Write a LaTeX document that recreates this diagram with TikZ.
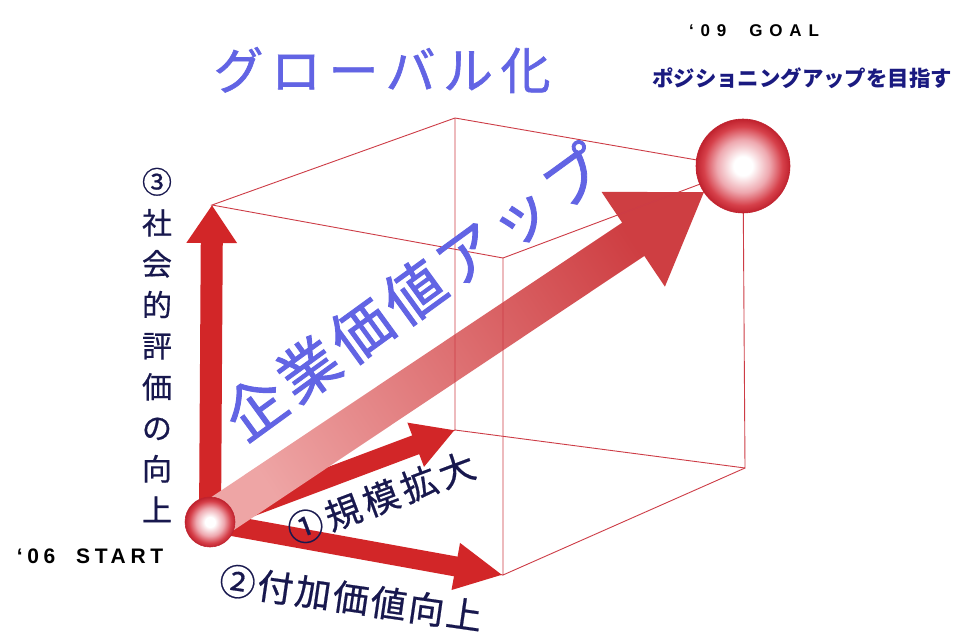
\documentclass[tikz,border=0pt]{standalone}
\usepackage{fontspec}
\setmainfont{Liberation Sans}
\newfontfamily\jp{Noto Sans CJK JP}
\usetikzlibrary{arrows.meta,calc}
\definecolor{cubered}{RGB}{205,60,70}
\definecolor{arrred}{RGB}{210,38,40}
\definecolor{kblue}{RGB}{98,100,228}
\definecolor{navy}{RGB}{26,26,128}
\definecolor{dnavy}{RGB}{24,24,78}
\definecolor{sphmid}{RGB}{238,168,175}
\definecolor{sphred}{RGB}{214,64,74}
\definecolor{sphdark}{RGB}{192,34,46}
\definecolor{bigA}{RGB}{238,165,165}
\definecolor{bigB}{RGB}{206,62,66}
\pgfdeclareradialshading{sphshade}{\pgfpoint{0bp}{0bp}}{color(0bp)=(white); color(5bp)=(white); color(14bp)=(sphmid); color(21bp)=(sphred); color(25bp)=(sphdark); color(50bp)=(sphdark)}
\pgfdeclarelayer{bgl}
\pgfdeclarelayer{redl}
\pgfdeclarelayer{bigl}
\pgfdeclarelayer{cubel}
\pgfsetlayers{bgl,redl,bigl,cubel,main}
\begin{document}
\begin{tikzpicture}[x=1pt,y=-1pt,
  cubeedge/.style={draw=cubered,line width=0.9pt},
  redarrow/.style={draw=arrred},
  sphere/.style={circle,inner sep=0pt,shading=sphshade,draw=sphdark,line width=0.6pt},
  lbl/.style={text=dnavy,inner sep=0pt},
  bluetxt/.style={text=kblue,inner sep=0pt},
]
\begin{pgfonlayer}{bgl}
  \fill[white] (0,0) rectangle (960,634);
\end{pgfonlayer}
\useasboundingbox (0,0) rectangle (960,634);

% cube corners
\coordinate (A) at (455,430);
\coordinate (B) at (503,575);
\coordinate (C) at (745,468);
\coordinate (D) at (212,205);
\coordinate (E) at (455,118);
\coordinate (F) at (503,258);
\coordinate (G) at (743,168);

% spheres
\node[sphere,minimum size=50pt] (start) at (210,522) {};
\node[sphere,minimum size=94pt] (goal) at (743,166) {};

% red arrows (and the cube edges under them)
\begin{pgfonlayer}{redl}
  \draw[cubeedge] (start.center) -- (A) (start.center) -- (B) (start.center) -- (D);
  \draw[redarrow,line width=22pt,-{Triangle[length=38pt,width=48pt]}] (start.center) -- (D);
  \draw[redarrow,line width=20pt,-{Triangle[length=42pt,width=44pt]}] (start.center) -- (A);
  \draw[redarrow,line width=20pt,-{Triangle[length=48pt,width=44pt]}] (start.center) -- (B);
\end{pgfonlayer}

% big shaded arrow
\begin{pgfonlayer}{bigl}
  \coordinate (T) at ($(goal.center)!47pt!(start.center)$);
  \coordinate (H) at ($(T)!85pt!(start.center)$);
  \shade[left color=bigA,right color=bigB,shading angle=123.6]
    ($(start.center)!20pt!90:(T)$) -- ($(H)!20pt!90:(T)$) -- ($(H)!57pt!90:(T)$) -- (T)
    -- ($(H)!57pt!-90:(T)$) -- ($(H)!20pt!-90:(T)$) -- ($(start.center)!20pt!-90:(T)$) -- cycle;
\end{pgfonlayer}

% cube edges
\begin{pgfonlayer}{cubel}
  \draw[cubeedge] (D) -- (E) -- (G) -- (F) -- cycle;
  \draw[cubeedge] (E) -- (A) -- (C) -- (G);
  \draw[cubeedge] (F) -- (B) -- (C);
\end{pgfonlayer}

% texts
\node[bluetxt,font=\jp\addfontfeatures{LetterSpace=15,FakeBold=1.2}\fontsize{50}{50}\selectfont] (glob) at (382,70) {グローバル化};
\node[bluetxt,rotate=36,font=\jp\addfontfeatures{LetterSpace=9,FakeBold=1.5}\fontsize{60}{60}\selectfont] (kigyo) at (414,292) {企業価値アップ};
\node[inner sep=0pt,font=\bfseries\addfontfeatures{LetterSpace=40}\fontsize{17}{17}\selectfont] (goaltxt) at (754,31) {‘09\ \ GOAL};
\node[text=navy,inner sep=0pt,font=\jp\bfseries\fontsize{21.4}{22}\selectfont] (posi) at (802,78) {ポジショニングアップを目指す};
\node[inner sep=0pt,font=\bfseries\addfontfeatures{LetterSpace=22}\fontsize{21}{21}\selectfont] (starttxt) at (90,556) {‘06\ \ START};
\node[lbl,align=center,font=\jp\addfontfeatures{FakeBold=0.6}\fontsize{30}{41}\selectfont] (social) at (157,345) {③\\社\\会\\的\\評\\価\\の\\向\\上};
\node[lbl,rotate=20.6,font=\jp\addfontfeatures{LetterSpace=12,FakeBold=0.6}\fontsize{36}{36}\selectfont] (scale) at (381,498) {①規模拡大};
\node[lbl,rotate=-8.2,font=\jp\addfontfeatures{LetterSpace=6,FakeBold=0.6}\fontsize{36}{36}\selectfont] (value) at (351,598) {②付加価値向上};
\end{tikzpicture}
\end{document}
